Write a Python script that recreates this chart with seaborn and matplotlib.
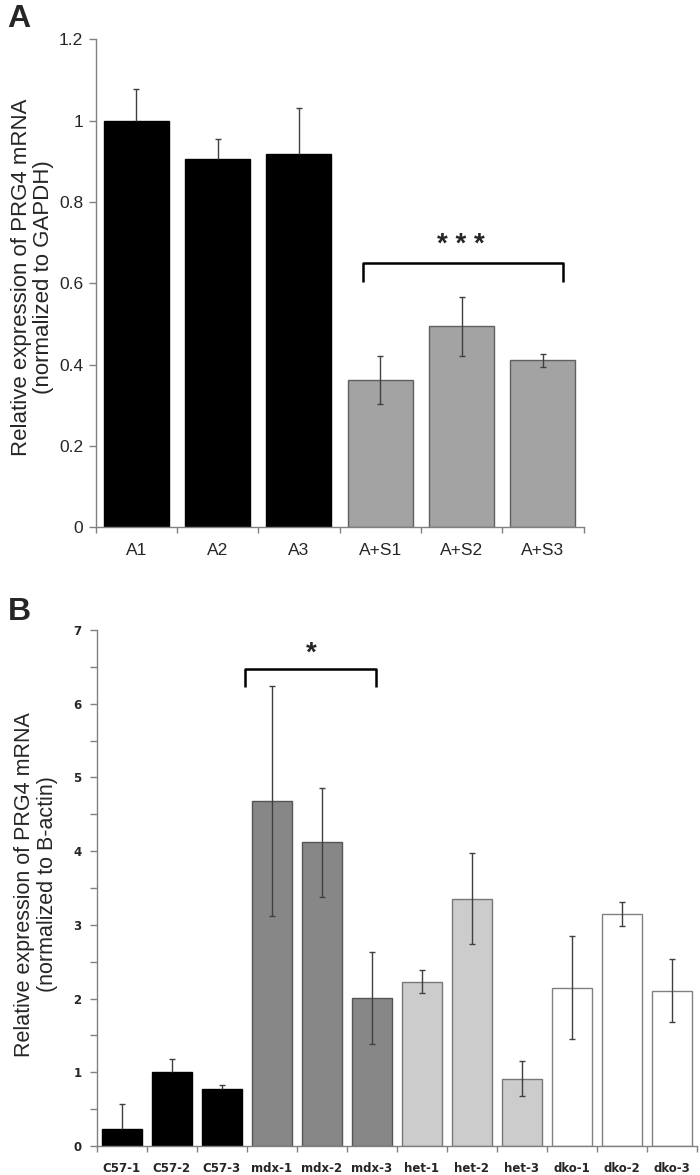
import numpy as np
import pandas as pd
import matplotlib
matplotlib.use("Agg")
import matplotlib.pyplot as plt
from matplotlib.ticker import FixedLocator, MultipleLocator, FuncFormatter
import seaborn as sns

# ---------------- data ----------------
cats_a = ["A1", "A2", "A3", "A+S1", "A+S2", "A+S3"]
vals_a = [1.0, 0.905, 0.917, 0.362, 0.494, 0.411]
err_a = [0.077, 0.050, 0.114, 0.059, 0.072, 0.016]
colors_a = ["#000000", "#000000", "#000000", "#a3a3a3", "#a3a3a3", "#a3a3a3"]
edges_a = ["#000000", "#000000", "#000000", "#606060", "#606060", "#606060"]

cats_b = ["C57-1", "C57-2", "C57-3", "mdx-1", "mdx-2", "mdx-3",
          "het-1", "het-2", "het-3", "dko-1", "dko-2", "dko-3"]
vals_b = [0.235, 1.0, 0.773, 4.68, 4.12, 2.01, 2.23, 3.354, 0.914, 2.147, 3.15, 2.106]
err_b = [0.34, 0.18, 0.06, 1.56, 0.74, 0.62, 0.155, 0.62, 0.235, 0.70, 0.165, 0.43]
colors_b = ["#000000"] * 3 + ["#878787"] * 3 + ["#cccccc"] * 3 + ["#ffffff"] * 3
edges_b = ["#000000"] * 3 + ["#555555"] * 3 + ["#777777"] * 3 + ["#808080"] * 3

ylabel_a = "Relative expression of PRG4 mRNA\n(normalized to GAPDH)"
ylabel_b = "Relative expression of PRG4 mRNA\n(normalized to B-actin)"

sns.set_style("ticks")
plt.rcParams["font.family"] = ["Liberation Sans", "DejaVu Sans"]

fig = plt.figure(figsize=(7, 11.75), dpi=100)
axA = fig.add_axes([95.5 / 700, 1 - 527.3 / 1175, 488 / 700, 488 / 1175])
axB = fig.add_axes([96.7 / 700, 1 - 1146 / 1175, 600 / 700, 516 / 1175])

SPINE = "#808080"
ERR = "#404040"


def draw(ax, cats, vals, errs, colors, edges):
    df = pd.DataFrame({"cat": cats, "val": vals})
    sns.barplot(data=df, x="cat", y="val", hue="cat", palette=dict(zip(cats, colors)),
                legend=False, width=0.8, ax=ax, errorbar=None, linewidth=1.0)
    for p, ec in zip(ax.patches, edges):
        p.set_edgecolor(ec)
        p.set_linewidth(1.0)
    xs = np.arange(len(cats))
    vals = np.asarray(vals)
    errs = np.asarray(errs)
    visible_low = np.array([c != "#000000" for c in colors])
    lower = np.where(visible_low, errs, 0.0)
    ax.errorbar(xs, vals, yerr=[lower, errs], fmt="none", ecolor=ERR, elinewidth=1.0,
                capsize=0, zorder=5)
    # caps
    ax.plot(xs, vals + errs, marker="_", ms=4.6, mew=1.0, color=ERR, ls="none", zorder=5)
    ax.plot(xs[visible_low], (vals - errs)[visible_low], marker="_", ms=4.6, mew=1.0,
            color=ERR, ls="none", zorder=5)
    ax.set_xlim(-0.5, len(cats) - 0.5)
    ax.set_xlabel("")
    for s in ["top", "right"]:
        ax.spines[s].set_visible(False)
    for s in ["left", "bottom"]:
        ax.spines[s].set_color(SPINE)
        ax.spines[s].set_linewidth(1.0)
    # x ticks: labels at centers, tick marks at boundaries
    ax.xaxis.set_minor_locator(FixedLocator(np.arange(-0.5, len(cats), 1.0)))
    ax.tick_params(axis="x", which="major", length=0)
    ax.tick_params(axis="x", which="minor", length=4.5, width=1.0, color=SPINE)
    ax.tick_params(axis="y", which="both", length=5, width=1.0, color=SPINE)


draw(axA, cats_a, vals_a, err_a, colors_a, edges_a)
draw(axB, cats_b, vals_b, err_b, colors_b, edges_b)

# ----- panel A axis -----
axA.set_ylim(0, 1.2)
axA.set_yticks(np.arange(0, 1.21, 0.2))
axA.yaxis.set_major_formatter(FuncFormatter(lambda v, p: ("%g" % round(v, 1))))
axA.tick_params(axis="y", labelsize=12.5, pad=4)
axA.tick_params(axis="x", which="major", labelsize=12.5, pad=11)
axA.set_ylabel(ylabel_a, fontsize=16, linespacing=1.05)
axA.yaxis.set_label_coords(-0.085, 0.513)

# significance bracket A
xa0, xa1, ya0, ya1 = 2.79, 5.25, 0.604, 0.649
axA.plot([xa0, xa0, xa1, xa1], [ya0, ya1, ya1, ya0], color="black", lw=1.8,
         solid_capstyle="butt", clip_on=False)
axA.text((xa0 + xa1) / 2 - 0.03, 0.662, "* * *", ha="center", va="bottom",
         fontsize=20, fontweight="bold")

# ----- panel B axis -----
axB.set_ylim(0, 7)
axB.set_yticks(np.arange(0, 8, 1))
axB.yaxis.set_minor_locator(MultipleLocator(0.5))
axB.tick_params(axis="y", labelsize=8.5, pad=6)
axB.tick_params(axis="x", which="major", labelsize=8.5, pad=11.5)
for lab in axB.get_xticklabels() + axB.get_yticklabels():
    lab.set_fontweight("bold")
    lab.set_family("DejaVu Sans")
axB.set_ylabel(ylabel_b, fontsize=15.5, linespacing=1.1)
axB.yaxis.set_label_coords(-0.0645, 0.507)

# significance bracket B
xb0, xb1, yb0, yb1 = 2.47, 5.09, 6.23, 6.47
axB.plot([xb0, xb0, xb1, xb1], [yb0, yb1, yb1, yb0], color="black", lw=1.8,
         solid_capstyle="butt", clip_on=False)
axB.text((xb0 + xb1) / 2 + 0.02, 6.5, "*", ha="center", va="bottom",
         fontsize=20, fontweight="bold")

# panel letters
fig.text(7 / 700, 1 - 4 / 1175, "A", fontsize=23, fontweight="bold", ha="left", va="top")
fig.text(8 / 700, 1 - 597 / 1175, "B", fontsize=23, fontweight="bold", ha="left", va="top")

fig.savefig("out.png", dpi=100)
